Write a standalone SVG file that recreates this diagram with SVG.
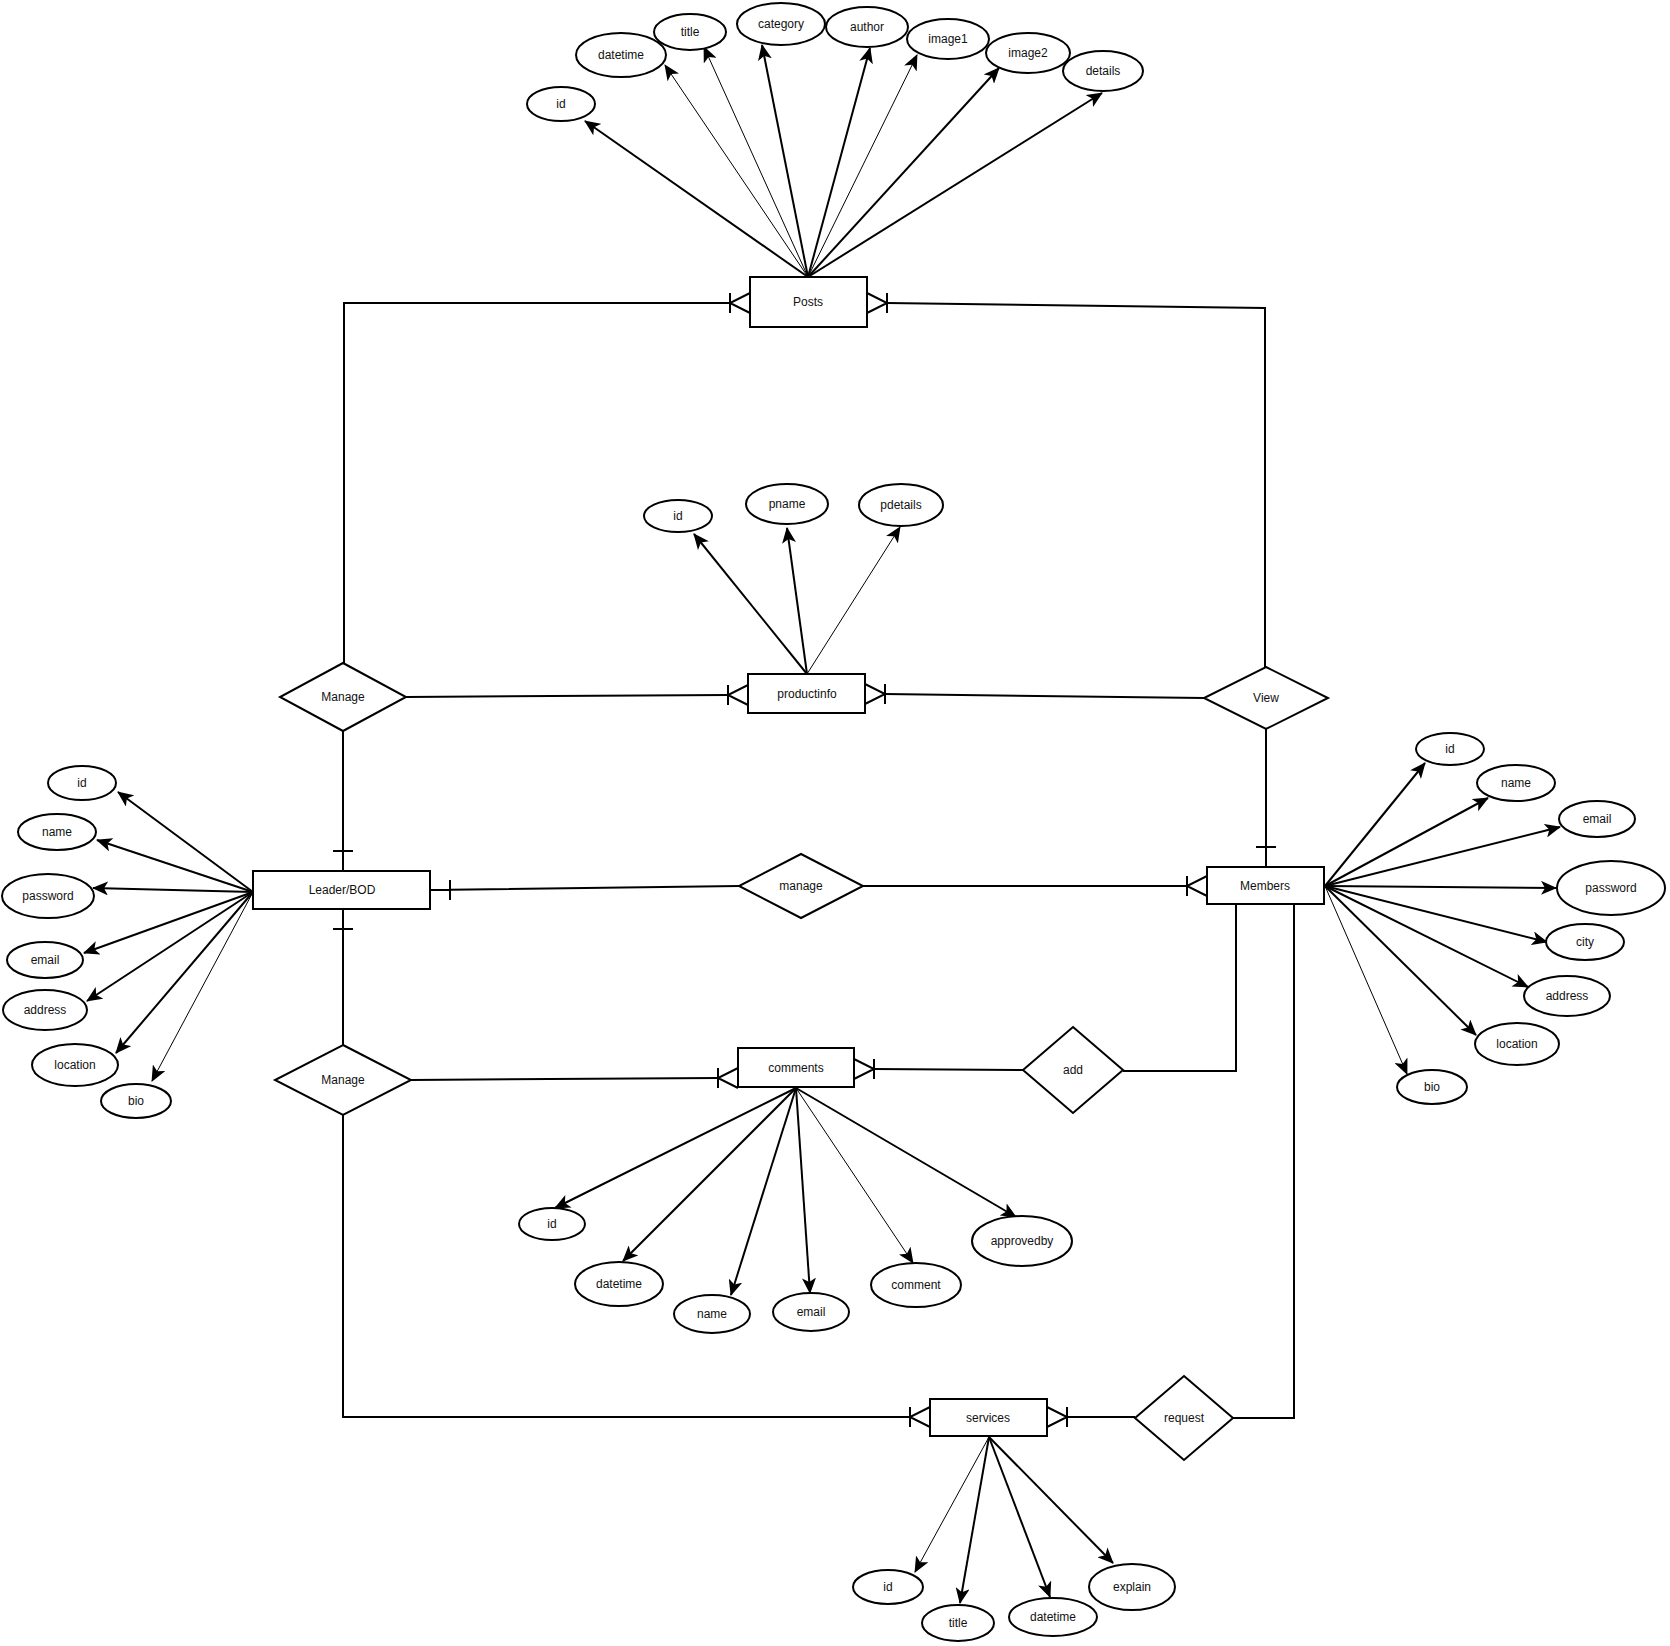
<svg xmlns="http://www.w3.org/2000/svg" width="1670" height="1646" viewBox="0 0 1670 1646">
<style>
.bg{fill:#fff}
.ent{fill:#fff;stroke:#000;stroke-width:2}
.rel{fill:#fff;stroke:#000;stroke-width:2}
.att{fill:#fff;stroke:#000;stroke-width:2}
.t{font-family:"Liberation Sans",Arial,sans-serif;font-size:12px;fill:#111;text-anchor:middle}
.c{fill:none;stroke:#000;stroke-width:2}
.a2{fill:none;stroke:#000;stroke-width:2;marker-end:url(#ah)}
.a1{fill:none;stroke:#000;stroke-width:1;marker-end:url(#ah)}
</style>
<defs>
<marker id="ah" markerUnits="userSpaceOnUse" markerWidth="16" markerHeight="14" refX="15" refY="7" orient="auto">
<path d="M0,0 L16,7 L0,14 L4,7 z" fill="#000"/>
</marker>
</defs>
<rect class="bg" x="0" y="0" width="1670" height="1646"/>

<g id="connectors">
<!-- Posts attributes -->
<line class="a2" x1="808" y1="277" x2="585" y2="121"/>
<line class="a1" x1="808" y1="277" x2="665" y2="65"/>
<line class="a1" x1="808" y1="277" x2="704" y2="47"/>
<line class="a2" x1="808" y1="277" x2="762" y2="45"/>
<line class="a2" x1="808" y1="277" x2="870" y2="48"/>
<line class="a1" x1="808" y1="277" x2="917" y2="55"/>
<line class="a2" x1="808" y1="277" x2="999" y2="68"/>
<line class="a2" x1="808" y1="277" x2="1102" y2="93"/>
<!-- productinfo attributes -->
<line class="a2" x1="807" y1="674" x2="694" y2="534"/>
<line class="a2" x1="807" y1="674" x2="787" y2="528"/>
<line class="a1" x1="807" y1="674" x2="900" y2="527"/>
<!-- Leader attributes -->
<line class="a2" x1="253" y1="892" x2="118" y2="792"/>
<line class="a2" x1="253" y1="892" x2="97" y2="840"/>
<line class="a2" x1="253" y1="892" x2="93" y2="888"/>
<line class="a2" x1="253" y1="892" x2="84" y2="953"/>
<line class="a2" x1="253" y1="892" x2="87" y2="1001"/>
<line class="a2" x1="253" y1="892" x2="116" y2="1053"/>
<line class="a1" x1="253" y1="892" x2="152" y2="1081"/>
<!-- Members attributes -->
<line class="a2" x1="1325" y1="886" x2="1425" y2="763"/>
<line class="a2" x1="1325" y1="886" x2="1488" y2="798"/>
<line class="a2" x1="1325" y1="886" x2="1560" y2="827"/>
<line class="a2" x1="1325" y1="886" x2="1556" y2="888"/>
<line class="a2" x1="1325" y1="886" x2="1547" y2="942"/>
<line class="a2" x1="1325" y1="886" x2="1528" y2="987"/>
<line class="a2" x1="1325" y1="886" x2="1476" y2="1035"/>
<line class="a1" x1="1325" y1="886" x2="1407" y2="1074"/>
<!-- comments attributes -->
<line class="a2" x1="796" y1="1088" x2="555" y2="1208"/>
<line class="a2" x1="796" y1="1088" x2="623" y2="1261"/>
<line class="a2" x1="796" y1="1088" x2="731" y2="1295"/>
<line class="a2" x1="796" y1="1088" x2="810" y2="1293"/>
<line class="a1" x1="796" y1="1088" x2="913" y2="1263"/>
<line class="a2" x1="796" y1="1088" x2="1016" y2="1217"/>
<!-- services attributes -->
<line class="a1" x1="989" y1="1437" x2="915" y2="1572"/>
<line class="a2" x1="989" y1="1437" x2="960" y2="1603"/>
<line class="a2" x1="989" y1="1437" x2="1050" y2="1597"/>
<line class="a2" x1="989" y1="1437" x2="1113" y2="1563"/>

<!-- relationships -->
<path class="c" d="M730,303 H344 V663"/>
<path class="c" d="M730,293 V313 M750,293 L730,303 L750,313"/>
<path class="c" d="M887,303 L1265,308 V667"/>
<path class="c" d="M867,293 L887,303 L867,313 M887,293 V313"/>

<path class="c" d="M406,697 L728,695"/>
<path class="c" d="M748,685 L728,695 L748,705 M728,685 V705"/>
<path class="c" d="M885,694 L1204,698"/>
<path class="c" d="M865,684 L885,694 L865,704 M885,684 V704"/>

<path class="c" d="M343,731 V871 M333,851 H353"/>
<path class="c" d="M1266,729 V867 M1256,847 H1276"/>

<path class="c" d="M430,890 L739,886 M450,880 V900"/>
<path class="c" d="M863,886 H1187"/>
<path class="c" d="M1207,876 L1187,886 L1207,896 M1187,876 V896"/>

<path class="c" d="M343,909 V1045 M333,929 H353"/>
<path class="c" d="M411,1080 L718,1078"/>
<path class="c" d="M738,1068 L718,1078 L738,1088 M718,1068 V1088"/>
<path class="c" d="M874,1069 L1023,1070"/>
<path class="c" d="M854,1059 L874,1069 L854,1079 M874,1059 V1079"/>
<path class="c" d="M1123,1071 H1236 V904"/>

<path class="c" d="M343,1115 V1417 H910"/>
<path class="c" d="M930,1407 L910,1417 L930,1427 M910,1407 V1427"/>
<path class="c" d="M1067,1417 H1135"/>
<path class="c" d="M1047,1407 L1067,1417 L1047,1427 M1067,1407 V1427"/>
<path class="c" d="M1233,1418 H1294 V904"/>
</g>

<!-- Entities -->
<g id="posts"><rect class="ent" x="750" y="277" width="117" height="50"/><text class="t" x="808" y="306">Posts</text></g>
<g id="productinfo"><rect class="ent" x="748" y="674" width="117" height="39"/><text class="t" x="807" y="698">productinfo</text></g>
<g id="leader"><rect class="ent" x="253" y="871" width="177" height="38"/><text class="t" x="342" y="894">Leader/BOD</text></g>
<g id="members"><rect class="ent" x="1207" y="867" width="117" height="37"/><text class="t" x="1265" y="890">Members</text></g>
<g id="comments"><rect class="ent" x="738" y="1048" width="116" height="39"/><text class="t" x="796" y="1072">comments</text></g>
<g id="services"><rect class="ent" x="930" y="1399" width="117" height="37"/><text class="t" x="988" y="1422">services</text></g>

<!-- Relationships -->
<g id="rel-manage-top"><polygon class="rel" points="343,663 406,697 343,731 280,697"/><text class="t" x="343" y="701">Manage</text></g>
<g id="rel-view"><polygon class="rel" points="1266,667 1328,698 1266,729 1204,698"/><text class="t" x="1266" y="702">View</text></g>
<g id="rel-manage-mid"><polygon class="rel" points="801,854 863,886 801,918 739,886"/><text class="t" x="801" y="890">manage</text></g>
<g id="rel-manage-low"><polygon class="rel" points="343,1045 411,1080 343,1115 275,1080"/><text class="t" x="343" y="1084">Manage</text></g>
<g id="rel-add"><polygon class="rel" points="1073,1027 1123,1070 1073,1113 1023,1070"/><text class="t" x="1073" y="1074">add</text></g>
<g id="rel-request"><polygon class="rel" points="1184,1376 1233,1418 1184,1460 1135,1418"/><text class="t" x="1184" y="1422">request</text></g>

<!-- Posts attributes -->
<g id="posts-id"><ellipse class="att" cx="561" cy="104" rx="34" ry="17"/><text class="t" x="561" y="108">id</text></g>
<g id="posts-datetime"><ellipse class="att" cx="621" cy="55" rx="45" ry="22"/><text class="t" x="621" y="59">datetime</text></g>
<g id="posts-title"><ellipse class="att" cx="690" cy="32" rx="36" ry="18"/><text class="t" x="690" y="36">title</text></g>
<g id="posts-category"><ellipse class="att" cx="781" cy="24" rx="44" ry="21"/><text class="t" x="781" y="28">category</text></g>
<g id="posts-author"><ellipse class="att" cx="867" cy="27" rx="41" ry="20"/><text class="t" x="867" y="31">author</text></g>
<g id="posts-image1"><ellipse class="att" cx="948" cy="39" rx="41" ry="20"/><text class="t" x="948" y="43">image1</text></g>
<g id="posts-image2"><ellipse class="att" cx="1028" cy="53" rx="42" ry="20"/><text class="t" x="1028" y="57">image2</text></g>
<g id="posts-details"><ellipse class="att" cx="1103" cy="71" rx="40" ry="20"/><text class="t" x="1103" y="75">details</text></g>

<!-- productinfo attributes -->
<g id="pi-id"><ellipse class="att" cx="678" cy="516" rx="34" ry="16"/><text class="t" x="678" y="520">id</text></g>
<g id="pi-pname"><ellipse class="att" cx="787" cy="504" rx="41" ry="20"/><text class="t" x="787" y="508">pname</text></g>
<g id="pi-pdetails"><ellipse class="att" cx="901" cy="505" rx="42" ry="21"/><text class="t" x="901" y="509">pdetails</text></g>

<!-- Leader attributes -->
<g id="l-id"><ellipse class="att" cx="82" cy="783" rx="34" ry="17"/><text class="t" x="82" y="787">id</text></g>
<g id="l-name"><ellipse class="att" cx="57" cy="832" rx="39" ry="18"/><text class="t" x="57" y="836">name</text></g>
<g id="l-password"><ellipse class="att" cx="48" cy="896" rx="46" ry="22"/><text class="t" x="48" y="900">password</text></g>
<g id="l-email"><ellipse class="att" cx="45" cy="960" rx="38" ry="18"/><text class="t" x="45" y="964">email</text></g>
<g id="l-address"><ellipse class="att" cx="45" cy="1010" rx="42" ry="20"/><text class="t" x="45" y="1014">address</text></g>
<g id="l-location"><ellipse class="att" cx="75" cy="1065" rx="43" ry="21"/><text class="t" x="75" y="1069">location</text></g>
<g id="l-bio"><ellipse class="att" cx="136" cy="1101" rx="35" ry="17"/><text class="t" x="136" y="1105">bio</text></g>

<!-- Members attributes -->
<g id="m-id"><ellipse class="att" cx="1450" cy="749" rx="34" ry="16"/><text class="t" x="1450" y="753">id</text></g>
<g id="m-name"><ellipse class="att" cx="1516" cy="783" rx="39" ry="18"/><text class="t" x="1516" y="787">name</text></g>
<g id="m-email"><ellipse class="att" cx="1597" cy="819" rx="38" ry="18"/><text class="t" x="1597" y="823">email</text></g>
<g id="m-password"><ellipse class="att" cx="1611" cy="888" rx="54" ry="27"/><text class="t" x="1611" y="892">password</text></g>
<g id="m-city"><ellipse class="att" cx="1585" cy="942" rx="39" ry="18"/><text class="t" x="1585" y="946">city</text></g>
<g id="m-address"><ellipse class="att" cx="1567" cy="996" rx="43" ry="20"/><text class="t" x="1567" y="1000">address</text></g>
<g id="m-location"><ellipse class="att" cx="1517" cy="1044" rx="42" ry="21"/><text class="t" x="1517" y="1048">location</text></g>
<g id="m-bio"><ellipse class="att" cx="1432" cy="1087" rx="35" ry="17"/><text class="t" x="1432" y="1091">bio</text></g>

<!-- comments attributes -->
<g id="c-id"><ellipse class="att" cx="552" cy="1224" rx="33" ry="16"/><text class="t" x="552" y="1228">id</text></g>
<g id="c-datetime"><ellipse class="att" cx="619" cy="1284" rx="44" ry="22"/><text class="t" x="619" y="1288">datetime</text></g>
<g id="c-name"><ellipse class="att" cx="712" cy="1314" rx="38" ry="19"/><text class="t" x="712" y="1318">name</text></g>
<g id="c-email"><ellipse class="att" cx="811" cy="1312" rx="38" ry="19"/><text class="t" x="811" y="1316">email</text></g>
<g id="c-comment"><ellipse class="att" cx="916" cy="1285" rx="45" ry="22"/><text class="t" x="916" y="1289">comment</text></g>
<g id="c-approvedby"><ellipse class="att" cx="1022" cy="1241" rx="50" ry="25"/><text class="t" x="1022" y="1245">approvedby</text></g>

<!-- services attributes -->
<g id="s-id"><ellipse class="att" cx="888" cy="1587" rx="35" ry="17"/><text class="t" x="888" y="1591">id</text></g>
<g id="s-title"><ellipse class="att" cx="958" cy="1623" rx="36" ry="18"/><text class="t" x="958" y="1627">title</text></g>
<g id="s-datetime"><ellipse class="att" cx="1053" cy="1617" rx="44" ry="19"/><text class="t" x="1053" y="1621">datetime</text></g>
<g id="s-explain"><ellipse class="att" cx="1132" cy="1587" rx="43" ry="23"/><text class="t" x="1132" y="1591">explain</text></g>
</svg>
